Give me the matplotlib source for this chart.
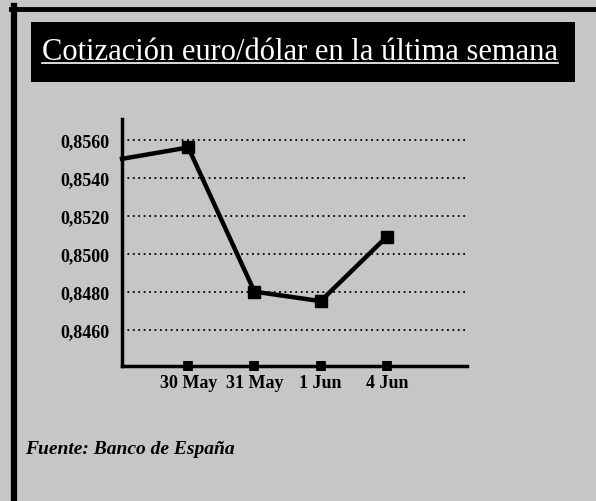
import matplotlib
matplotlib.use('Agg')
import matplotlib.pyplot as plt
from matplotlib.patches import Rectangle
from matplotlib.lines import Line2D
from matplotlib.ticker import FuncFormatter

# datos: cotización euro/dólar
dates = ['', '30 May', '31 May', '1 Jun', '4 Jun']
rates = [0.8550, 0.8556, 0.8480, 0.8475, 0.8509]
yticks = [0.8460, 0.8480, 0.8500, 0.8520, 0.8540, 0.8560]

title = 'Cotización euro/dólar en la última semana'
source = 'Fuente: Banco de España'

bg = '#c6c6c6'
W, H = 596, 502

fig = plt.figure(figsize=(W / 100, H / 100), dpi=100)
fig.patch.set_facecolor(bg)

def fx(px):
    return px / W

def fy(py):
    return 1 - py / H

# marco exterior
fig.add_artist(Line2D([fx(13.5), fx(13.5)], [fy(7), 0], color='black', lw=4.5))
fig.add_artist(Line2D([fx(11), 1], [fy(9.5), fy(9.5)], color='black', lw=3.5))

# caja del titulo
fig.add_artist(Rectangle((fx(31), fy(83)), fx(575) - fx(31), fy(23) - fy(83),
                         transform=fig.transFigure, facecolor='black', edgecolor='none'))
t = fig.text(fx(300), fy(53), title, color='white', fontsize=22,
             family='Liberation Serif', ha='center', va='center')

ax = fig.add_axes([fx(122), fy(367), fx(467) - fx(122), fy(120) - fy(367)])
ax.set_facecolor('none')

x = list(range(len(dates)))
ax.plot(x, rates, color='black', lw=3.2, clip_on=False, zorder=3)
ax.plot(x[1:], rates[1:], color='black', ls='none', marker='s', markersize=8,
        clip_on=False, zorder=4)

ax.set_xlim(0, 5.21)
ax.set_ylim(0.84408, 0.8571)
ax.set_xticks(x[1:])
ax.set_xticklabels(dates[1:])
ax.set_yticks(yticks)
ax.yaxis.set_major_formatter(FuncFormatter(lambda v, p: ('%.4f' % v).replace('.', ',')))

for lab in ax.get_xticklabels() + ax.get_yticklabels():
    lab.set_family('Liberation Serif')
    lab.set_fontweight('bold')
    lab.set_fontsize(13)

ax.tick_params(axis='x', direction='inout', length=7, width=7, pad=2)
ax.tick_params(axis='y', length=0, pad=9)
ax.grid(axis='y', color='black', linestyle=(0, (1, 2)), lw=1.3)

for s in ['top', 'right']:
    ax.spines[s].set_visible(False)
for s in ['left', 'bottom']:
    ax.spines[s].set_linewidth(2.5)

fig.text(fx(25), fy(450), source, fontsize=14, family='Liberation Serif',
         fontweight='bold', style='italic', ha='left', va='center')

# subrayado del titulo
fig.canvas.draw()
bb = t.get_window_extent()
uy = bb.y0 + 4
fig.add_artist(Line2D([bb.x0 / W, bb.x1 / W], [uy / H, uy / H], color='white', lw=1.2))

fig.savefig('out.png', dpi=100, facecolor=fig.get_facecolor())
